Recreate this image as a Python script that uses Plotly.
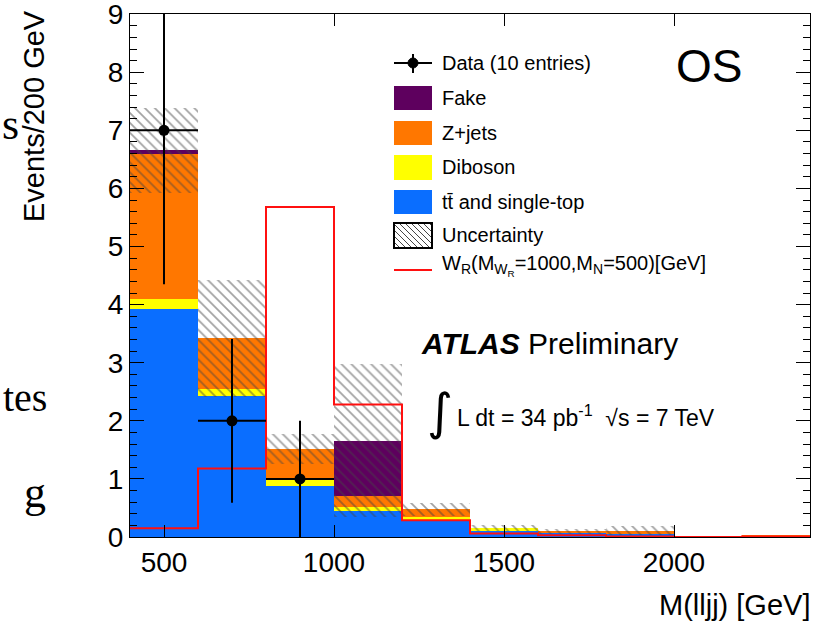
import plotly.graph_objects as go

# ---------------- data ----------------
bin_edges = [400, 600, 800, 1000, 1200, 1400, 1600, 1800, 2000, 2200, 2400]
bin_centers = [500, 700, 900, 1100, 1300, 1500, 1700, 1900, 2100, 2300]
bin_width = 200

ttbar = [3.92, 2.43, 0.87, 0.45, 0.30, 0.12, 0.07, 0.06, 0.0, 0.0]
diboson = [0.17, 0.11, 0.13, 0.06, 0.04, 0.03, 0.01, 0.0, 0.0, 0.0]
zjets = [2.50, 0.88, 0.52, 0.20, 0.14, 0.0, 0.01, 0.05, 0.0, 0.03]
fake = [0.07, 0.0, 0.0, 0.95, 0.0, 0.0, 0.0, 0.0, 0.0, 0.0]
uncert = [0.73, 1.01, 0.26, 1.32, 0.11, 0.05, 0.04, 0.08, 0.0, 0.0]

signal = [0.15, 1.18, 5.68, 2.28, 0.29, 0.06, 0.03, 0.01, 0.0, 0.01]

data_x = [500, 700, 900]
data_y = [7, 2, 1]
data_err = [2.65, 1.41, 1.0]
data_xerr = [100, 100, 100]

x_ticks = [500, 1000, 1500, 2000]
y_ticks = [0, 1, 2, 3, 4, 5, 6, 7, 8, 9]

# ---------------- styles ----------------
C_TT = "#0A6EFF"
C_DB = "#FFFF00"
C_ZJ = "#FF7700"
C_FK = "#5E005E"
C_SIG = "#FF1010"
C_HATCH = "#454545"
FONT = "Liberation Sans, Arial, sans-serif"
SERIF = "Liberation Serif, Times New Roman, serif"

W, H = 817, 626
L, R, T, B = 130, 810, 14, 537


def px(x):
    return (x - L) / (R - L)


def py(y):
    return (B - y) / (B - T)


fig = go.Figure()

# stacked backgrounds (overlay with explicit bases)
stack = [("tt̄ and single-top", ttbar, C_TT), ("Diboson", diboson, C_DB),
         ("Z+jets", zjets, C_ZJ), ("Fake", fake, C_FK)]
base = [0.0] * len(bin_centers)
for name, vals, col in stack:
    fig.add_trace(go.Bar(x=bin_centers, y=vals, base=list(base), width=bin_width,
                         marker=dict(color=col, line=dict(width=0)), name=name,
                         showlegend=False))
    base = [b + v for b, v in zip(base, vals)]
total = base

# uncertainty band (hatched)
fig.add_trace(go.Bar(x=bin_centers, y=[2 * u for u in uncert],
                     base=[t - u for t, u in zip(total, uncert)], width=bin_width,
                     marker=dict(color=C_HATCH, line=dict(width=0),
                                 pattern=dict(shape="\\", size=7, solidity=0.25,
                                              fgcolor=C_HATCH, bgcolor="rgba(0,0,0,0)")),
                     showlegend=False))

# signal step histogram
fig.add_trace(go.Scatter(x=bin_edges, y=signal + [signal[-1]], mode="lines",
                         line=dict(color=C_SIG, width=2, shape="hv"), showlegend=False))

# data
fig.add_trace(go.Scatter(x=data_x, y=data_y, mode="markers",
                         marker=dict(color="black", size=11),
                         error_y=dict(type="data", array=data_err, color="black", thickness=2, width=0),
                         error_x=dict(type="data", array=data_xerr, color="black", thickness=2, width=0),
                         showlegend=False))

shapes = []
annotations = []

# ---------------- custom legend ----------------
lx0, lx1 = 394, 432
tx = 440
leg_font = dict(family=FONT, size=20, color="black")

# data entry
shapes.append(dict(type="line", xref="paper", yref="paper", x0=px(lx0), x1=px(lx1),
                   y0=py(63), y1=py(63), line=dict(color="black", width=2)))
shapes.append(dict(type="line", xref="paper", yref="paper", x0=px(413), x1=px(413),
                   y0=py(54), y1=py(73), line=dict(color="black", width=2)))
shapes.append(dict(type="circle", xref="paper", yref="paper", x0=px(408), x1=px(418),
                   y0=py(58), y1=py(68), fillcolor="black", line=dict(color="black", width=1)))
annotations.append(dict(text="Data (10 entries)", x=px(tx), y=py(63)))

boxes = [("Fake", C_FK, 86, 110), ("Z+jets", C_ZJ, 121, 145),
         ("Diboson", C_DB, 155, 180), ("tt̄ and single-top", C_TT, 190, 214)]
for name, col, y0, y1 in boxes:
    shapes.append(dict(type="rect", xref="paper", yref="paper", x0=px(lx0), x1=px(lx1),
                       y0=py(y1), y1=py(y0), fillcolor=col, line=dict(width=0)))
    annotations.append(dict(text=name, x=px(tx), y=py((y0 + y1) / 2)))

# uncertainty entry (hatched box)
uy0, uy1 = 223, 248
path = ""
c = lx0 - uy1
while c <= lx1 - uy0:
    ya = max(uy0, lx0 - c)
    yb = min(uy1, lx1 - c)
    if yb > ya:
        path += f"M{px(ya + c):.5f},{py(ya):.5f} L{px(yb + c):.5f},{py(yb):.5f} "
    c += 6
shapes.append(dict(type="path", xref="paper", yref="paper", path=path,
                   line=dict(color=C_HATCH, width=1)))
shapes.append(dict(type="rect", xref="paper", yref="paper", x0=px(lx0), x1=px(lx1),
                   y0=py(uy1), y1=py(uy0), line=dict(color="black", width=2)))
annotations.append(dict(text="Uncertainty", x=px(tx), y=py(235)))

# signal entry
shapes.append(dict(type="line", xref="paper", yref="paper", x0=px(lx0), x1=px(lx1),
                   y0=py(270), y1=py(270), line=dict(color=C_SIG, width=2)))
annotations.append(dict(text="W<sub>R</sub>(M<sub>W<sub>R</sub></sub>=1000,M<sub>N</sub>=500)[GeV]",
                        x=px(tx), y=py(265)))

for a in annotations:
    a.update(xref="paper", yref="paper", xanchor="left", yanchor="middle",
             showarrow=False, font=leg_font)

# other text
extra = [
    dict(text="OS", x=px(709), y=py(66), xanchor="center", yanchor="middle",
         font=dict(family=FONT, size=46, color="black")),
    dict(text="<b><i>ATLAS</i></b> Preliminary", x=px(419), y=py(343), xanchor="left",
         yanchor="middle", font=dict(family=FONT, size=30, color="black")),
    dict(text="∫", x=px(440), y=py(412), xanchor="center", yanchor="middle",
         font=dict(family="DejaVu Sans, sans-serif", size=50, color="black")),
    dict(text="L dt = 34 pb<sup>-1</sup>  √s = 7 TeV", x=px(455), y=py(416),
         xanchor="left", yanchor="middle", font=dict(family=FONT, size=23, color="black")),
    dict(text="Events/200 GeV", x=px(34), y=py(8), xanchor="center", yanchor="top",
         textangle=-90, font=dict(family=FONT, size=29, color="black")),
    dict(text="M(lljj) [GeV]", x=px(812), y=py(605), xanchor="right", yanchor="middle",
         font=dict(family=FONT, size=29, color="black")),
    # slide remnants at the left edge
    dict(text="s", x=px(21), y=py(124), xanchor="right", yanchor="middle",
         font=dict(family=SERIF, size=44, color="black")),
    dict(text="tes", x=px(49), y=py(398), xanchor="right", yanchor="middle",
         font=dict(family=SERIF, size=40, color="black")),
    dict(text="g", x=px(48), y=py(492), xanchor="right", yanchor="middle",
         font=dict(family=SERIF, size=44, color="black")),
]
for a in extra:
    a.update(xref="paper", yref="paper", showarrow=False)
    annotations.append(a)

fig.update_layout(
    width=W, height=H,
    margin=dict(l=L, r=W - R, t=T, b=H - B, pad=0, autoexpand=False),
    paper_bgcolor="white", plot_bgcolor="white",
    barmode="overlay", bargap=0,
    showlegend=False,
    shapes=shapes, annotations=annotations,
    font=dict(family=FONT, color="black"),
)
fig.update_xaxes(range=[400, 2400], tickvals=x_ticks, ticks="inside", ticklen=12,
                 tickwidth=1, tickcolor="black", showline=True, linecolor="black",
                 linewidth=1, mirror="ticks", showgrid=False, zeroline=False,
                 ticklabeloverflow="allow", automargin=False,
                 tickfont=dict(family=FONT, size=28, color="black"))
fig.update_yaxes(range=[0, 9.003], tickvals=y_ticks, ticks="inside", ticklen=14,
                 tickwidth=1, tickcolor="black", showline=True, linecolor="black",
                 linewidth=1, mirror="ticks", showgrid=False, zeroline=False,
                 ticklabeloverflow="allow", automargin=False,
                 minor=dict(dtick=0.2, ticks="inside", ticklen=7, tickcolor="black", showgrid=False),
                 tickfont=dict(family=FONT, size=28, color="black"))

fig.write_html("out.html")
